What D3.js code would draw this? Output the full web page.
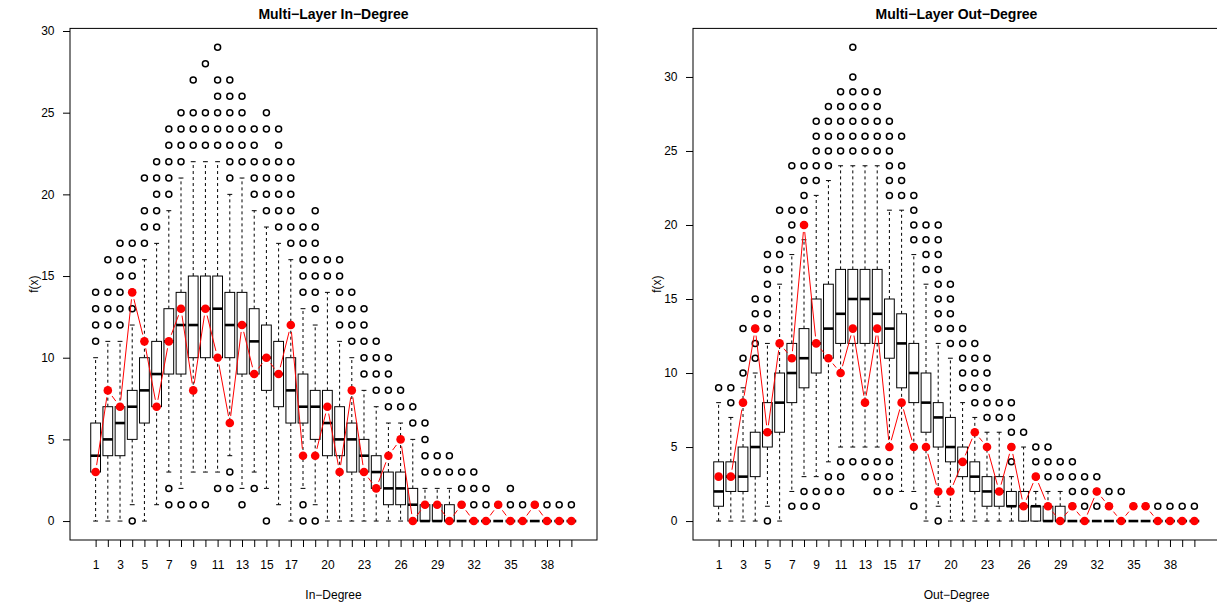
<!DOCTYPE html>
<html>
<head>
<meta charset="utf-8">
<title>Multi-Layer Degree</title>
<script src="https://cdn.jsdelivr.net/npm/d3@7"></script>
<style>
  body { margin: 0; background: #fff; }
  svg text { font-family: "Liberation Sans", Arial, Helvetica, sans-serif; fill: #000; }
</style>
</head>
<body>
<script>
  // degree values 1..40 on the x axis
  var categories = d3.range(1, 41);
  var xTickLabels = [1, 3, 5, 7, 9, 11, 13, 15, 17, 20, 23, 26, 29, 32, 35, 38];
  var yTicks = [0, 5, 10, 15, 20, 25, 30];

  // In-Degree boxplots
  var inQ1  = [3,4,4,5,6,7,9,9,10,10,10,10,9,9,8,7,6,6,5,4,4,3,3,2,1,1,0,0,0,0,0,0,0,0,0,0,0,0,0,0];
  var inMed = [4,5,6,7,8,9,11,12,12,13,13,12,12,11,10,9,8,7,7,6,5,5,4,3,2,2,1,0,0,0,0,0,0,0,0,0,0,0,0,0];
  var inQ3  = [6,7,7,8,10,11,13,14,15,15,15,14,14,13,12,11,10,9,8,8,7,6,5,4,3,3,2,1,1,1,0,0,0,0,0,0,0,0,0,0];
  var inLo  = [0,0,0,1,0,1,3,2,3,3,3,4,2,3,2,1,0,2,1,0,0,0,0,0,0,0,0,0,0,0,0,0,0,0,0,0,0,0,0,0];
  var inHi  = [10,11,11,12,16,17,19,21,22,22,22,20,21,19,18,17,16,13,12,14,11,10,8,7,6,6,5,2,2,2,0,0,0,0,0,0,0,0,0,0];
  var inOut = [[11,12,13,14],[12,13,14,16],[12,13,14,15,16,17],[0,13,14,15,16,17],[17,18,19,21],
    [18,19,20,21,22],[1,2,20,21,22,23,24],[1,22,23,24,25],[1,23,24,25,27],[1,23,24,25,28],
    [2,23,24,25,26,27,29],[2,3,21,22,23,24,25,26,27],[1,22,23,24,25,26],[2,20,21,22,23,24],[0,19,20,21,22,24,25],
    [18,19,20,21,22,23,24],[17,18,19,20,21,22],[0,1,14,15,16,17,18],[0,13,14,15,16,17,18,19],[15,16],
    [12,13,14,15,16],[11,12,13,14],[9,10,11,12,13],[8,9,10,11],[7,8,9,10],
    [7,8],[6,7],[3,4,5,6],[3,4],[3,4],
    [1,2,3],[1,2,3],[1,2],[1],[1,2],[1],[1],[1],[1],[1]];
  var inNet = [3,8,7,14,11,7,11,13,8,13,10,6,12,9,10,9,12,4,4,7,3,8,3,2,4,5,0,1,1,0,1,0,0,1,0,0,1,0,0,0];

  // Out-Degree boxplots
  var outQ1  = [1,2,2,3,5,6,8,9,10,11,12,12,12,12,11,9,8,6,5,4,3,2,1,1,1,0,0,0,0,0,0,0,0,0,0,0,0,0,0,0];
  var outMed = [2,3,3,5,6,8,10,11,12,13,14,15,15,14,13,12,10,8,7,5,4,3,2,2,1,1,1,0,0,0,0,0,0,0,0,0,0,0,0,0];
  var outQ3  = [4,4,5,6,8,10,12,13,15,16,17,17,17,17,15,14,12,10,8,7,5,4,3,3,2,2,1,1,1,0,0,0,0,0,0,0,0,0,0,0];
  var outLo  = [0,0,0,0,1,0,2,3,3,4,5,5,5,5,5,2,2,0,1,0,0,0,0,0,0,0,0,0,0,0,0,0,0,0,0,0,0,0,0,0];
  var outHi  = [8,7,9,10,12,16,18,19,22,23,24,24,24,24,21,21,18,16,12,11,8,7,6,6,3,5,2,2,2,0,0,0,0,0,0,0,0,0,0,0];
  var outOut = [[9],[8,9],[10,11,13],[11,12,13,14,15],[0,13,14,15,16,17,18],
    [17,18,19,21],[1,19,20,21,24],[1,2,20,21,22,23,24],[1,2,23,24,25,26,27],[2,3,24,25,26,27,28],
    [2,3,4,25,26,27,28,29],[4,25,26,27,28,29,30,32],[3,4,25,26,27,28,29],[2,3,4,25,26,27,28,29],[2,3,4,22,23,24,25,26,27],
    [22,23,24,26],[1,19,20,21,22],[17,18,19,20],[0,13,14,15,16,17,18,19,20],[12,13,14,15,16],
    [9,10,11,12,13],[8,9,10,11,12],[7,8,9,10,11],[7,8],[4,5,6,7,8],
    [6],[3,4,5],[3,4,5],[3,4],[1,2,3,4],
    [1,2,3],[1,2,3],[1,2],[2],[1],[1],[1],[1],[1],[1]];
  var outNet = [3,3,8,13,6,12,11,20,12,11,10,13,8,13,5,8,5,5,2,2,4,6,5,2,5,1,3,1,0,1,0,2,1,0,1,1,0,0,0,0];

  var W = 1217, H = 602;
  var plotTop = 28.4, plotBottom = 540;

  var svg = d3.select("body").append("svg")
    .attr("width", W)
    .attr("height", H);

  function drawPanel(p) {
    var g = svg.append("g");

    var x = d3.scaleLinear()
      .domain([0.5 - 1.6, 40.5 + 1.6])
      .range([p.left, p.right]);

    var yMax = Math.max(d3.max(p.hi), d3.max(p.out.flat()), d3.max(p.net));
    var pad = yMax * 0.04;
    var y = d3.scaleLinear()
      .domain([-pad, yMax + pad])
      .range([plotBottom, plotTop]);

    var boxes = categories.map(function(c, i) {
      return { c: c, q1: p.q1[i], med: p.med[i], q3: p.q3[i], lo: p.lo[i], hi: p.hi[i], out: p.out[i] };
    });

    var bg = g.selectAll("g.box")
      .data(boxes)
      .enter().append("g")
      .attr("class", "box");

    // whiskers
    bg.append("line")
      .attr("x1", function(d) { return x(d.c); })
      .attr("x2", function(d) { return x(d.c); })
      .attr("y1", function(d) { return y(d.q3); })
      .attr("y2", function(d) { return y(d.hi); })
      .attr("stroke", "#000")
      .attr("stroke-dasharray", "3,3");
    bg.append("line")
      .attr("x1", function(d) { return x(d.c); })
      .attr("x2", function(d) { return x(d.c); })
      .attr("y1", function(d) { return y(d.q1); })
      .attr("y2", function(d) { return y(d.lo); })
      .attr("stroke", "#000")
      .attr("stroke-dasharray", "3,3");

    // staples
    ["hi", "lo"].forEach(function(k) {
      bg.append("line")
        .attr("x1", function(d) { return x(d.c - 0.2); })
        .attr("x2", function(d) { return x(d.c + 0.2); })
        .attr("y1", function(d) { return y(d[k]); })
        .attr("y2", function(d) { return y(d[k]); })
        .attr("stroke", "#000");
    });

    // box
    bg.append("rect")
      .attr("x", function(d) { return x(d.c - 0.4); })
      .attr("width", function(d) { return x(d.c + 0.4) - x(d.c - 0.4); })
      .attr("y", function(d) { return y(d.q3); })
      .attr("height", function(d) { return y(d.q1) - y(d.q3); })
      .attr("fill", "#fff")
      .attr("stroke", "#000")
      .attr("stroke-width", 1);

    // median
    bg.append("line")
      .attr("x1", function(d) { return x(d.c - 0.4); })
      .attr("x2", function(d) { return x(d.c + 0.4); })
      .attr("y1", function(d) { return y(d.med); })
      .attr("y2", function(d) { return y(d.med); })
      .attr("stroke", "#000")
      .attr("stroke-width", 2.6);

    // outliers
    bg.selectAll("circle")
      .data(function(d) { return d.out.map(function(v) { return { c: d.c, v: v }; }); })
      .enter().append("circle")
      .attr("cx", function(d) { return x(d.c); })
      .attr("cy", function(d) { return y(d.v); })
      .attr("r", 3)
      .attr("fill", "none")
      .attr("stroke", "#000")
      .attr("stroke-width", 1.5);

    // red series: lines with gaps round the points (type = "b")
    var pts = categories.map(function(c, i) { return [x(c), y(p.net[i])]; });
    var gap = 7;
    var segs = [];
    for (var i = 0; i < pts.length - 1; i++) {
      var dx = pts[i + 1][0] - pts[i][0], dy = pts[i + 1][1] - pts[i][1];
      var len = Math.sqrt(dx * dx + dy * dy);
      if (len > 2 * gap) {
        var ux = dx / len, uy = dy / len;
        segs.push([pts[i][0] + ux * gap, pts[i][1] + uy * gap, pts[i + 1][0] - ux * gap, pts[i + 1][1] - uy * gap]);
      }
    }
    g.selectAll("line.red")
      .data(segs)
      .enter().append("line")
      .attr("class", "red")
      .attr("x1", function(d) { return d[0]; })
      .attr("y1", function(d) { return d[1]; })
      .attr("x2", function(d) { return d[2]; })
      .attr("y2", function(d) { return d[3]; })
      .attr("stroke", "#ff0000")
      .attr("stroke-width", 1);

    g.selectAll("circle.red")
      .data(categories)
      .enter().append("circle")
      .attr("class", "red")
      .attr("cx", function(d) { return x(d); })
      .attr("cy", function(d, i) { return y(p.net[i]); })
      .attr("r", 4.3)
      .attr("fill", "#ff0000");

    // frame
    g.append("rect")
      .attr("x", p.left)
      .attr("y", plotTop)
      .attr("width", p.right - p.left)
      .attr("height", plotBottom - plotTop)
      .attr("fill", "none")
      .attr("stroke", "#000");

    // axes
    var xAxis = d3.axisBottom(x)
      .tickValues(categories)
      .tickSize(7)
      .tickPadding(13.5)
      .tickFormat(function(d) { return xTickLabels.indexOf(d) >= 0 ? d : ""; });
    var xg = g.append("g")
      .attr("transform", "translate(0," + plotBottom + ")")
      .call(xAxis);
    xg.select(".domain").remove();
    xg.selectAll("text").attr("font-size", "12px").attr("font-family", null);

    var yAxis = d3.axisLeft(y)
      .tickValues(yTicks)
      .tickSize(7)
      .tickPadding(8.5);
    var yg = g.append("g")
      .attr("transform", "translate(" + p.left + ",0)")
      .call(yAxis);
    yg.select(".domain").remove();
    yg.selectAll("text").attr("font-size", "12px").attr("font-family", null);

    // titles
    var cx = (p.left + p.right) / 2;
    g.append("text")
      .attr("x", cx)
      .attr("y", 19)
      .attr("text-anchor", "middle")
      .attr("font-weight", "bold")
      .attr("font-size", "14px")
      .text(p.title);

    g.append("text")
      .attr("x", cx)
      .attr("y", 599)
      .attr("text-anchor", "middle")
      .attr("font-size", "12px")
      .text(p.xlab);

    g.append("text")
      .attr("transform", "translate(" + (p.left - 32) + "," + ((plotTop + plotBottom) / 2) + ") rotate(-90)")
      .attr("text-anchor", "middle")
      .attr("font-size", "12px")
      .text("f(x)");
  }

  drawPanel({
    left: 70, right: 597,
    title: "Multi\u2212Layer In\u2212Degree", xlab: "In\u2212Degree",
    q1: inQ1, med: inMed, q3: inQ3, lo: inLo, hi: inHi, out: inOut, net: inNet
  });

  drawPanel({
    left: 693, right: 1220,
    title: "Multi\u2212Layer Out\u2212Degree", xlab: "Out\u2212Degree",
    q1: outQ1, med: outMed, q3: outQ3, lo: outLo, hi: outHi, out: outOut, net: outNet
  });
</script>
</body>
</html>
